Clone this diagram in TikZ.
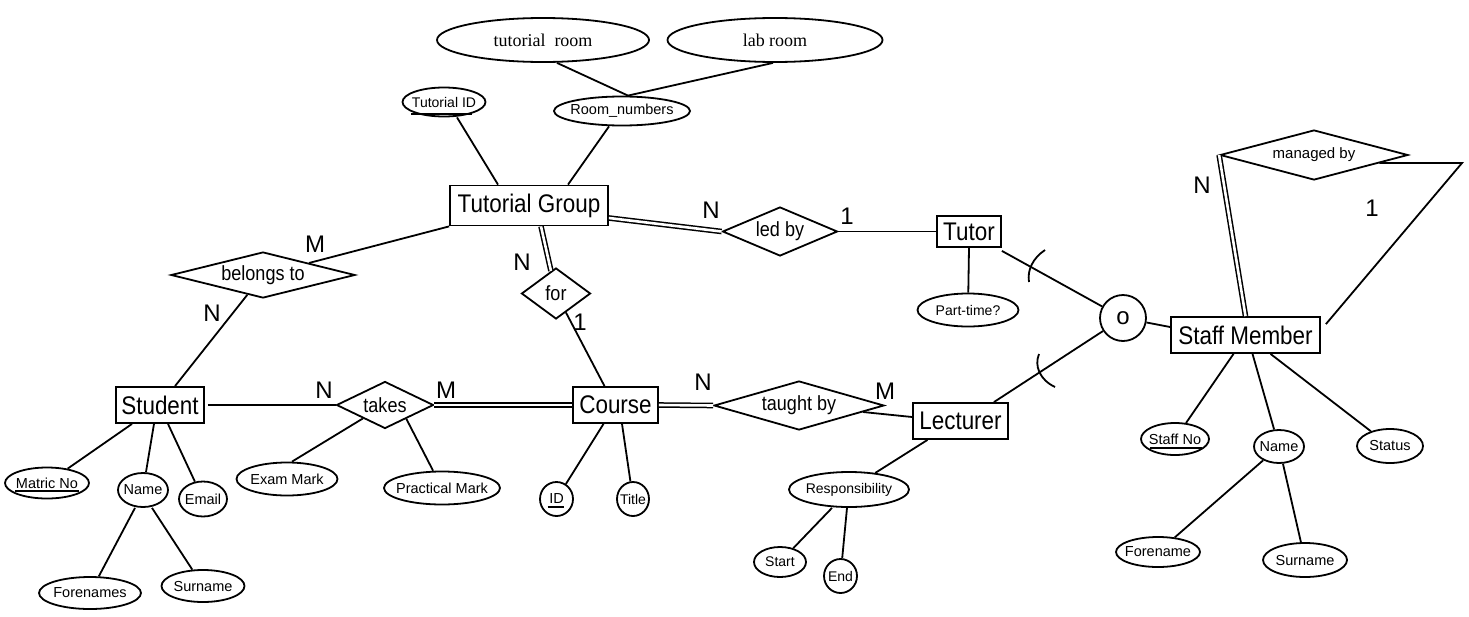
\documentclass[tikz,border=0pt]{standalone}
\usepackage{fontspec}
\setmainfont{Liberation Sans}
\newfontfamily\narrowsf[FakeStretch=0.88]{Liberation Sans}
\newfontfamily\roomserif{Liberation Serif}
\usetikzlibrary{shapes.geometric}
\newcommand\ztxt[1]{\makebox[0pt]{#1}}
\begin{document}
\begin{tikzpicture}[x=1pt,y=-1pt,
  conn/.style={line width=1.8pt},
  dbl/.style={line width=1.5pt,double,double distance=2.6pt},
  ent/.style={draw,rectangle,line width=1.8pt,inner sep=0pt,font=\narrowsf\fontsize{25.5}{26}\selectfont},
  attr/.style={draw,ellipse,line width=1.8pt,inner sep=0pt,font=\fontsize{14.5}{15}\selectfont},
  rel/.style={draw,diamond,line width=1.8pt,inner sep=0pt,font=\narrowsf\fontsize{20.5}{21}\selectfont},
  card/.style={inner sep=0pt,font=\fontsize{24}{24}\selectfont},
  ulin/.style={line width=1.4pt}
]
\path[use as bounding box] (0,0) rectangle (1469,616);

% ---------- entities ----------
\node[ent,minimum width=158pt,minimum height=40pt] (tg) at (529,205.5) {Tutorial Group};
\node[ent,minimum width=88pt,minimum height=36pt] (student) at (160,405) {Student};
\node[ent,minimum width=85pt,minimum height=36pt] (course) at (615.5,405) {Course};
\node[ent,minimum width=64pt,minimum height=31pt] (tutor) at (969,231.5) {Tutor};
\node[ent,minimum width=95pt,minimum height=36pt] (lect) at (960.5,421) {Lecturer};
\node[ent,minimum width=149pt,minimum height=36pt] (sm) at (1245.5,335) {Staff Member};

% ---------- relationships ----------
\node[rel,minimum width=184pt,minimum height=46pt,aspect=4] (belongs) at (263,275) {\ztxt{belongs to}};
\node[rel,minimum width=97pt,minimum height=47pt,aspect=2.06] (takes) at (385,405) {\ztxt{takes}};
\node[rel,minimum width=69pt,minimum height=51pt,aspect=1.35] (forr) at (556,293.5) {\ztxt{for}};
\node[rel,minimum width=115pt,minimum height=49pt,aspect=2.35] (ledby) at (780,231.5) {\ztxt{led by}};
\node[rel,minimum width=170pt,minimum height=49pt,aspect=3.47] (taught) at (799,405.5) {\ztxt{taught by}};
\node[rel,minimum width=188pt,minimum height=50pt,aspect=3.76,font=\fontsize{15}{15}\selectfont] (mb) at (1314,155) {\ztxt{managed by}};

% ---------- attributes ----------
\node[attr,minimum width=212pt,minimum height=44pt,font=\roomserif\fontsize{18}{18}\selectfont] (troom) at (543,40) {\ztxt{tutorial\ \ room}};
\node[attr,minimum width=215pt,minimum height=44pt,font=\roomserif\fontsize{18}{18}\selectfont] (lroom) at (775,40) {\ztxt{lab room}};
\node[attr,minimum width=136pt,minimum height=29pt] (roomnum) at (622,111) {\ztxt{Room\_numbers}};
\node[attr,minimum width=83pt,minimum height=29pt,font=\fontsize{14}{14}\selectfont] (tutid) at (444,102) {\ztxt{Tutorial ID}};
\node[attr,minimum width=101pt,minimum height=33pt] (exam) at (287,479) {\ztxt{Exam Mark}};
\node[attr,minimum width=116pt,minimum height=33pt] (prac) at (442,488) {\ztxt{Practical Mark}};
\node[attr,minimum width=84pt,minimum height=31pt] (matric) at (47,483) {\ztxt{Matric No}};
\node[attr,minimum width=50pt,minimum height=34pt] (sname) at (143,490) {\ztxt{Name}};
\node[attr,minimum width=48pt,minimum height=35pt] (email) at (203,499) {\ztxt{Email}};
\node[attr,minimum width=102pt,minimum height=32pt] (fore) at (90,593) {\ztxt{Forenames}};
\node[attr,minimum width=83pt,minimum height=32pt] (sur) at (203,586) {\ztxt{Surname}};
\node[attr,minimum width=101pt,minimum height=33pt,font=\fontsize{14}{14}\selectfont] (part) at (968,310) {\ztxt{Part-time?}};
\node[attr,minimum width=120pt,minimum height=35pt,font=\fontsize{14}{14}\selectfont] (resp) at (849,489.5) {\ztxt{Responsibility}};
\node[attr,minimum width=52pt,minimum height=30pt,font=\fontsize{14}{14}\selectfont] (startn) at (780,562) {\ztxt{Start}};
\node[attr,minimum width=33pt,minimum height=34pt,font=\fontsize{14}{14}\selectfont] (endn) at (840.5,576) {\ztxt{End}};
\node[attr,minimum width=33pt,minimum height=34pt] (idn) at (556.5,499) {\ztxt{ID}};
\node[attr,minimum width=32pt,minimum height=34pt,font=\fontsize{14}{14}\selectfont] (title) at (633,499) {\ztxt{Title}};
\node[attr,minimum width=68pt,minimum height=32pt] (staffno) at (1175,439) {\ztxt{Staff No}};
\node[attr,minimum width=50pt,minimum height=33pt] (name2) at (1279,446.5) {\ztxt{Name}};
\node[attr,minimum width=66pt,minimum height=34pt] (status) at (1390,446) {\ztxt{Status}};
\node[attr,minimum width=84pt,minimum height=30pt] (fore2) at (1158,552) {\ztxt{Forename}};
\node[attr,minimum width=84pt,minimum height=34pt] (sur2) at (1305,560) {\ztxt{Surname}};

% ---------- overlap circle ----------
\node[draw,circle,line width=1.8pt,minimum size=46pt,inner sep=0pt,font=\fontsize{24}{24}\selectfont] (circ) at (1123,318) {\ztxt{o}};
\coordinate (mcorner) at (1462,163);

% ---------- key underlines ----------
\draw[ulin] ([shift={(-32pt,-8pt)}]matric.center) -- ([shift={(32pt,-8pt)}]matric.center);
\draw[ulin] ([shift={(-33pt,-12pt)}]tutid.center) -- ([shift={(28pt,-12pt)}]tutid.center);
\draw[ulin] ([shift={(-25pt,-9pt)}]staffno.center) -- ([shift={(27pt,-9pt)}]staffno.center);
\draw[ulin] ([shift={(-9pt,-8pt)}]idn.center) -- ([shift={(7pt,-8pt)}]idn.center);

% ---------- connectors ----------
\draw[conn] ([xshift=14pt]troom.south) -- ([xshift=6pt]roomnum.north);
\draw[conn] ([xshift=-2pt]lroom.south) -- ([xshift=6pt]roomnum.north);
\draw[conn] ([xshift=13pt]tutid.south) -- ([xshift=-31pt]tg.north);
\draw[conn] ([xshift=-13pt]roomnum.south) -- ([xshift=39pt]tg.north);
\draw[conn] (tg.south west) -- (belongs);
\draw[conn] ([xshift=15pt]student.north) -- (belongs);
\draw[conn] ([xshift=3pt]student.east) -- (takes.west);
\draw[dbl] (takes.east) -- (course.west);
\draw[conn] ([xshift=5pt]exam.north) -- (takes);
\draw[conn] (takes.-33) -- (prac);
\draw[dbl] ([xshift=12pt]tg.south) -- (forr);
\draw[conn] ([xshift=-11pt]course.north) -- (forr);
\draw[dbl] ([yshift=-12.5pt]tg.east) -- (ledby.west);
\draw[conn] (ledby.east) -- (tutor.west);
\draw[conn] (tutor.south) -- (part);
\draw[conn] ([yshift=-3pt]tutor.south east) -- (circ);
\draw[conn] ([xshift=-15pt]lect.north east) -- (circ);
\draw[conn] (circ) -- ([yshift=8pt]sm.west);
\draw[dbl] (course.east) -- (taught.west);
\draw[conn] ([yshift=4pt]lect.west) -- (taught);
\draw[conn] ([xshift=-33pt]lect.south) -- (resp);
\draw[conn] ([xshift=-17pt]resp.south) -- (startn);
\draw[conn] ([xshift=-2pt]resp.south) -- (endn);
\draw[conn] ([xshift=-12pt]course.south) -- (idn);
\draw[conn] ([xshift=6.5pt]course.south) -- (title);
\draw[conn] ([xshift=-28pt]student.south) -- (matric);
\draw[conn] ([xshift=-6pt]student.south) -- (sname);
\draw[conn] ([xshift=8pt]student.south) -- (email);
\draw[conn] ([xshift=-8pt]sname.south) -- (fore);
\draw[conn] ([xshift=9pt]sname.south) -- (sur);
\draw[conn] ([xshift=-12pt]sm.south) -- (staffno);
\draw[conn] ([xshift=7pt]sm.south) -- (name2);
\draw[conn] ([xshift=25pt]sm.south) -- (status);
\draw[conn] (name2) -- (fore2);
\draw[conn] (name2) -- (sur2);
\draw[dbl] (mb.west) -- (sm.north);
\draw[conn] (mb.-7) -- (mcorner) -- ([shift={(5pt,-8pt)}]sm.north east);

% subset marks
\draw[conn] (1045,250) .. controls (1033,258) and (1027,270) .. (1029,282);
\draw[conn] (1039,354) .. controls (1034,366) and (1040,380) .. (1055,387);

% ---------- cardinalities ----------
\node[card] (c1) at (315,244) {M};
\node[card] (c2) at (212,313) {N};
\node[card] (c3) at (324,390) {N};
\node[card] (c4) at (446,390) {M};
\node[card] (c5) at (522,262) {N};
\node[card] (c6) at (580,322) {1};
\node[card] (c7) at (711,210) {N};
\node[card] (c8) at (847,216) {1};
\node[card] (c9) at (703,382) {N};
\node[card] (c10) at (885,391) {M};
\node[card] (c11) at (1202,185) {N};
\node[card] (c12) at (1372,208) {1};
\end{tikzpicture}
\end{document}
